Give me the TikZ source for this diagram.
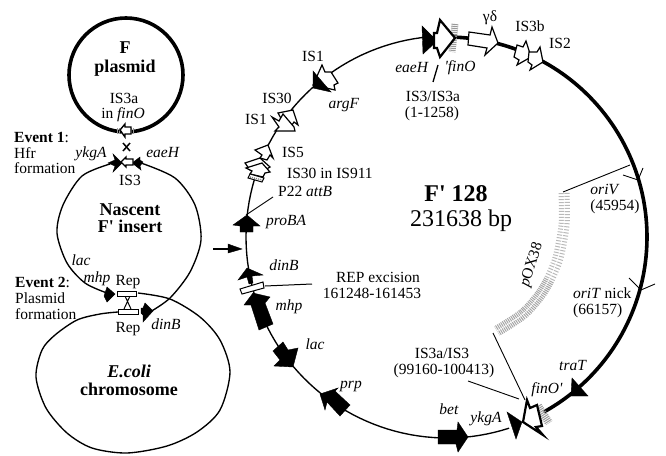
\documentclass[tikz,border=0pt]{standalone}
\usepackage{fontspec}
\setmainfont{Liberation Serif}[Ligatures=TeXOff]
\newcommand{\lab}[4][]{\node[anchor=base,inner sep=0pt,#1] at (#2,#3) {#4};}
\newcommand{\labl}[4][]{\node[anchor=base west,inner sep=0pt,#1] at (#2,#3) {#4};}
\newcommand{\fsn}{\fontsize{15.5}{17}\selectfont}
\newcommand{\fsb}{\fontsize{18}{20}\selectfont\bfseries}
\tikzset{
  thinline/.style={line width=1.35pt,line join=round},
  thickline/.style={line width=3.6pt},
  leader/.style={line width=0.9pt},
  blackarrow/.style={fill=black,draw=black,line width=0.4pt,line join=miter},
  openarrow/.style={fill=white,draw=black,line width=1.2pt,line join=miter},
  boldopen/.style={fill=white,draw=black,line width=2.2pt,line join=miter},
  hatch/.style={draw=gray!80,line width=#1,dash pattern=on 1pt off 1pt},
  repbox/.style={fill=white,draw=black,line width=1pt},
}
\begin{document}
\begin{tikzpicture}[x=1pt,y=-1pt,every node/.style={font=\fsn}]
\useasboundingbox (0,0) rectangle (666,455);

% --- left panel ---
\draw[line width=3.6pt] (126,75) circle[radius=57pt];
\draw[hatch=6pt] (117,131) -- (134,131);
\draw[openarrow,line width=1.4pt] (120,130) -- (125,124) -- (125,127) -- (131,127) -- (131,134) -- (125,134) -- (125,137) -- cycle;
\draw[line width=1.5pt] (123,143) -- (130,151) (130,143) -- (123,151);

\draw[thinline] plot[smooth] coordinates {(110,164) (82,176) (63,205) (57,233) (67,263) (85,283) (107,293)};
\draw[thinline] plot[smooth] coordinates {(141,163) (175,178) (195,205) (201,240) (190,272) (170,298) (150,312)};
\draw[thinline] plot[smooth] coordinates {(138,293) (170,299) (200,317) (220,340) (230,372) (220,410) (197,432) (167,446) (127,453) (92,448) (67,433) (46,408) (36,377) (42,350) (55,335) (77,320) (100,314) (118,312)};

\fill[blackarrow] (108,163) -- (115,160) -- (113,154) -- (122,163) -- (113,172) -- (115,166) -- cycle;
\fill[blackarrow] (132,163) -- (140,157) -- (140,160) -- (143,162) -- (140,166) -- (141,170) -- cycle;
\draw[openarrow,line width=1.4pt] (121,162) -- (126,157) -- (126,159) -- (133,159) -- (133,165) -- (126,165) -- (126,167) -- cycle;

\fill[blackarrow] (107,287) -- (115,294) -- (107,302) -- (104,296) -- cycle;
\fill[blackarrow] (141,308) -- (143,308) -- (145,303) -- (153,311) -- (143,322) -- (143,315) -- (141,313) -- cycle;
\draw[line width=1pt] (125,296) -- (131,309) (130,296) -- (124,309);
\draw[repbox] (117,291) rectangle (136,296);
\draw[repbox] (118,309) rectangle (138,314);

\lab[font=\fsb]{125}{53}{F}
\lab[font=\fsb]{125}{72}{plasmid}
\lab{124}{103}{IS3a}
\lab{123}{118}{in \textit{finO}}
\labl{14}{142}{\textbf{Event 1}:}
\labl{14}{158}{Hfr}
\labl{14}{173}{formation}
\lab{91}{157}{\textit{ykgA}}
\lab{163}{157}{\textit{eaeH}}
\lab{130}{185}{IS3}
\lab[font=\fsb]{130}{215}{Nascent}
\lab[font=\fsb]{130}{232}{F' insert}
\lab{81}{265}{\textit{lac}}
\lab{97}{282}{\textit{mhp}}
\lab{128}{285}{Rep}
\labl{15}{287}{\textbf{Event 2}:}
\labl{15}{303}{Plasmid}
\labl{15}{319}{formation}
\lab{128}{332}{Rep}
\lab{166}{329}{\textit{dinB}}
\lab[font=\fsb]{129}{377}{\textit{E.coli}}
\lab[font=\fsb]{129}{395}{chromosome}

\draw[line width=1.6pt] (213,249) -- (230,249);
\fill[blackarrow] (228,244) -- (242,249) -- (228,253) -- cycle;

% --- big circle ---
\draw[thinline] plot[domain=93:288,samples=90] ({447+201*cos(\x)},{237-201*sin(\x)});
\draw[thickline] plot[domain=88:-61,samples=90] ({447+200*cos(\x)},{237-200*sin(\x)});

% pOX38 band
\draw[draw=gray!55,line width=11pt,dash pattern=on 1pt off 2pt] plot[smooth] coordinates {(564,193) (564,225) (558,258) (549,280)};
\draw[draw=gray!70,line width=11pt,dash pattern=on 1pt off 1pt] plot[smooth] coordinates {(549,280) (540,295) (523,314) (497,331)};
\draw[white,line width=0.7pt] plot[smooth] coordinates {(549,280) (540,295) (523,314) (497,331)};
\draw[white,line width=0.7pt] plot[smooth] coordinates {(564,193) (564,225) (558,258) (549,280)};
\draw[leader] (630,165) -- (563,192);
\draw[leader] (493,333) -- (525,400);
\draw[leader] (468,381) -- (519,399);
\draw[leader] (623,175) -- (638,180) -- (643,168);
\draw[leader] (629,278) -- (641,290) -- (655,284);
\draw[line width=1.3pt] (438,65) -- (433,82);
\draw[leader] (246,215) -- (273,197);
\draw[line width=1pt] (265,286) -- (312,284);

% hatch near finO
\draw[hatch=7pt] (455,24) -- (452,52);
\draw[hatch=8pt] (538,406) -- (549,423);

% gene arrows, top
\fill[blackarrow] (422,26) -- (437,41) -- (423,54) -- cycle;
\draw[boldopen] (455,38) -- (440,20) -- (437,33) -- (434,33) -- (434,48) -- (437,48) -- (440,57) -- cycle;
\draw[openarrow] (469,32) -- (490,35) -- (492,27) -- (498,43) -- (485,55) -- (487,48) -- (468,45) -- cycle;
\draw[openarrow] (517,45) -- (523,47) -- (526,41) -- (531,57) -- (517,65) -- (519,60) -- (514,57) -- cycle;
\draw[openarrow] (529,52) -- (537,52) -- (540,47) -- (543,62) -- (530,70) -- (532,65) -- (528,62) -- cycle;

% IS cluster
\draw[openarrow] (322,65) -- (325,72) -- (331,72) -- (338,83) -- (334,85) -- (335,90) -- (313,85) -- cycle;
\fill[blackarrow] (313,71) -- (331,92) -- (313,88) -- cycle;
\draw[openarrow] (278,113) -- (293,110) -- (298,125) -- (294,122) -- (290,128) -- (283,122) -- cycle;
\draw[openarrow] (272,117) -- (279,121) -- (283,114) -- (294,127) -- (295,131) -- (275,131) -- (279,127) -- cycle;
\draw[openarrow] (255,150) -- (268,145) -- (273,158) -- (270,155) -- (267,160) -- (260,158) -- (262,155) -- cycle;
\draw[openarrow] (245,163) -- (260,158) -- (270,167) -- (265,170) -- (250,170) -- cycle;
\draw[openarrow] (246,168) -- (262,163) -- (270,172) -- (265,173) -- (263,177) -- (250,174) -- (252,171) -- cycle;
\draw[repbox] (248,178) -- (250,174) -- (264,178) -- (262,182) -- cycle;
\draw[gray,line width=1.4pt,dash pattern=on 1pt off 1pt] (250,177) -- (262,180);

% black genes, left/bottom
\fill[blackarrow] (247,215) -- (260,226) -- (253,226) -- (253,232) -- (240,232) -- (240,226) -- (233,225) -- cycle;
\fill[blackarrow] (238,280) -- (247,268) -- (263,275) -- (252,276) -- (253,283) -- (249,284) -- (247,277) -- cycle;
\draw[repbox] (240,289) -- (263,282) -- (264,288) -- (242,294) -- cycle;
\fill[blackarrow] (259,330) -- (273,324) -- (265,303) -- (270,297) -- (253,293) -- (244,305) -- (251,305) -- cycle;
\fill[blackarrow] (273,351) -- (283,342) -- (288,350) -- (298,348) -- (293,367) -- (274,366) -- (280,360) -- cycle;
\fill[blackarrow] (320,394) -- (338,388) -- (335,391) -- (350,405) -- (340,416) -- (327,402) -- (325,410) -- cycle;
\fill[blackarrow] (438,430) -- (457,430) -- (458,422) -- (468,437) -- (458,452) -- (456,444) -- (438,444) -- cycle;
\fill[blackarrow] (507,412) -- (522,422) -- (516,439) -- cycle;
\draw[boldopen] (523,422) -- (527,400) -- (530,408) -- (537,405) -- (542,426) -- (536,427) -- (543,435) -- cycle;
\fill[blackarrow] (572,378) -- (588,396) -- (571,396) -- cycle;

% labels
\lab{313}{61}{IS1}
\lab{344}{108}{\textit{argF}}
\lab{277}{103}{IS30}
\lab{256}{124}{IS1}
\lab{293}{157}{IS5}
\labl{287}{178}{IS30 in IS911}
\labl{278}{196}{P22 \textit{attB}}
\labl{266}{225}{\textit{proBA}}
\lab{412}{72}{\textit{eaeH}}
\lab{460}{71}{\textit{'finO}}
\lab{433}{101}{IS3/IS3a}
\lab{432}{117}{(1-1258)}
\lab{490}{21}{γδ}
\lab{530}{31}{IS3b}
\lab{560}{48}{IS2}
\lab{605}{194}{\textit{oriV}}
\lab{615}{210}{(45954)}
\lab[font=\fontsize{24}{26}\selectfont]{456}{201}{\textbf{F' 128}}
\lab[font=\fontsize{24}{26}\selectfont]{461}{226}{231638 bp}
\lab{284}{270}{\textit{dinB}}
\lab{378}{282}{REP excision}
\lab{372}{298}{161248-161453}
\lab{289}{310}{\textit{mhp}}
\lab{315}{349}{\textit{lac}}
\lab{351}{388}{\textit{prp}}
\lab{442}{358}{IS3a/IS3}
\lab{444}{374}{(99160-100413)}
\lab{449}{414}{\textit{bet}}
\lab{486}{422}{\textit{ykgA}}
\lab{547}{393}{\textit{finO'}}
\lab{573}{370}{\textit{traT}}
\labl{573}{298}{\textit{oriT} nick}
\labl{573}{314}{(66157)}
\node[inner sep=0pt,rotate=72] at (532,265) {\textit{p}OX38};
\end{tikzpicture}
\end{document}
